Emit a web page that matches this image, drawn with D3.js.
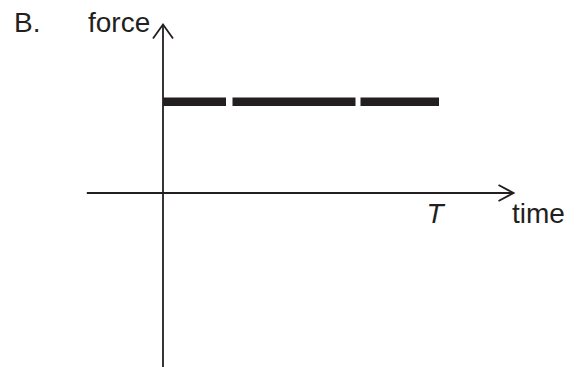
<!DOCTYPE html>
<html>
<head>
<meta charset="utf-8">
<script src="https://cdn.jsdelivr.net/npm/d3@7"></script>
<style>
  html, body { margin: 0; padding: 0; background: #fff; }
  svg { display: block; }
</style>
</head>
<body>
<svg id="chart" width="579" height="367"></svg>
<script>
// ---- data ----
const panelLabel = "B.";
const yAxisLabel = "force";
const xAxisLabel = "time";
const xTickLabels = ["T"];
const xTickValues = [1];          // time in units of T
const forceTimes = [0, 1];        // force from t = 0 to t = T
const forceValues = [1, 1];       // constant force
const xDomain = [-0.276, 1.27];   // horizontal axis extent (time units)
const yDomain = [-1.93, 1.845];   // vertical axis extent (force units)

// ---- scales ----
const x = d3.scaleLinear().domain([0, 1]).range([163, 439]);
const y = d3.scaleLinear().domain([0, 1]).range([193, 101.7]);

const svg = d3.select("#chart");
const ink = "#231f20";
const font = "Liberation Sans, Arial, sans-serif";
const fs = 28;

// horizontal axis
svg.append("line")
  .attr("x1", x(xDomain[0])).attr("x2", x(xDomain[1]))
  .attr("y1", y(0)).attr("y2", y(0))
  .attr("stroke", ink).attr("stroke-width", 1.8);
const hx = x(xDomain[1]), hy = y(0);
svg.append("path")
  .attr("d", `M${hx - 15},${hy - 8} L${hx},${hy} L${hx - 15},${hy + 8}`)
  .attr("fill", "none").attr("stroke", ink).attr("stroke-width", 1.8);

// vertical axis
svg.append("line")
  .attr("x1", x(0)).attr("x2", x(0))
  .attr("y1", y(yDomain[0])).attr("y2", y(yDomain[1]))
  .attr("stroke", ink).attr("stroke-width", 1.8);
const vx = x(0), vy = y(yDomain[1]);
svg.append("path")
  .attr("d", `M${vx - 10},${vy + 14} L${vx},${vy} L${vx + 10},${vy + 14}`)
  .attr("fill", "none").attr("stroke", ink).attr("stroke-width", 1.8);

// force line (thick dashed)
const line = d3.line().x((d, i) => x(forceTimes[i])).y(d => y(d));
svg.append("path")
  .datum(forceValues)
  .attr("d", line)
  .attr("fill", "none")
  .attr("stroke", ink)
  .attr("stroke-width", 8.5)
  .attr("stroke-dasharray", "63,6.5,123,5,80");

// tick label T
svg.selectAll("text.tick")
  .data(xTickValues)
  .enter().append("text")
  .attr("class", "tick")
  .attr("x", d => x(d) - 4)
  .attr("y", 223)
  .attr("text-anchor", "middle")
  .attr("font-family", font)
  .attr("font-style", "italic")
  .attr("font-size", fs)
  .attr("fill", ink)
  .text((d, i) => xTickLabels[i]);

// axis labels
svg.append("text")
  .attr("x", 512).attr("y", 223)
  .attr("font-family", font)
  .attr("font-size", fs).attr("fill", ink)
  .text(xAxisLabel);

svg.append("text")
  .attr("x", 88).attr("y", 32)
  .attr("font-family", font)
  .attr("font-size", fs).attr("fill", ink)
  .text(yAxisLabel);

svg.append("text")
  .attr("x", 14).attr("y", 32)
  .attr("font-family", font)
  .attr("font-size", fs).attr("fill", ink)
  .text(panelLabel);
</script>
</body>
</html>
